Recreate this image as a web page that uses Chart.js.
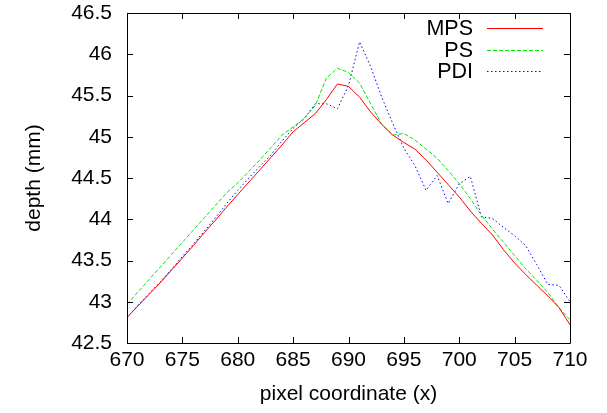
<!DOCTYPE html>
<html>
<head>
<meta charset="utf-8">
<script src="https://cdn.jsdelivr.net/npm/chart.js@4/dist/chart.umd.min.js"></script>
<style>
	html, body { margin: 0; padding: 0; background: #fff; }
	#wrap { width: 607px; height: 413px; }
</style>
</head>
<body>
<div id="wrap"><canvas id="depthChart" width="607" height="413"></canvas></div>
<script>
// x 좌표 (pixel coordinate)
const xValues = [670, 671, 672, 673, 674, 675, 676, 677, 678, 679, 680, 681, 682, 683, 684, 685, 686, 687, 688, 689, 690,
	691, 692, 693, 694, 695, 696, 697, 698, 699, 700, 701, 702, 703, 704, 705, 706, 707, 708, 709, 710];

// 각 방법의 depth (mm)
const mpsValues = [42.81, 42.95, 43.09, 43.23, 43.38, 43.53, 43.68, 43.84, 43.99, 44.15, 44.30, 44.45, 44.60, 44.75, 44.90,
	45.06, 45.17, 45.28, 45.45, 45.64, 45.61, 45.48, 45.30, 45.15, 45.02, 44.93, 44.85, 44.72, 44.57, 44.42, 44.27,
	44.10, 43.95, 43.81, 43.63, 43.47, 43.33, 43.20, 43.07, 42.93, 42.72];
const psValues = [42.97, 43.12, 43.27, 43.42, 43.57, 43.72, 43.87, 44.02, 44.17, 44.32, 44.44, 44.58, 44.72, 44.87, 45.02,
	45.12, 45.22, 45.38, 45.71, 45.83, 45.78, 45.65, 45.40, 45.15, 45.02, 45.04, 44.96, 44.85, 44.74, 44.59, 44.43,
	44.25, 44.05, 43.88, 43.72, 43.56, 43.40, 43.26, 43.11, 42.93, 42.78];
const pdiValues = [42.81, 42.96, 43.10, 43.24, 43.39, 43.55, 43.70, 43.86, 44.02, 44.19, 44.35, 44.50, 44.64, 44.78, 44.95,
	45.10, 45.22, 45.40, 45.40, 45.34, 45.62, 46.15, 45.85, 45.48, 45.16, 44.86, 44.65, 44.35, 44.53, 44.19, 44.43,
	44.52, 44.03, 44.01, 43.90, 43.80, 43.68, 43.45, 43.21, 43.20, 43.00];

const seriesNames = ["MPS", "PS", "PDI"];
const seriesColors = ["#ff0000", "#00e600", "#0000ff"];
const seriesDash = [[], [4, 2], [1.5, 2.5]];

const FONT = "'Liberation Sans', Arial, Helvetica, sans-serif";
const FONT_SIZE = 21;

function toPoints(values) {
	return xValues.map((x, i) => ({ x: x, y: values[i] }));
}

// 테두리 + 안쪽 눈금 (gnuplot 스타일) + 범례
const framePlugin = {
	id: "frame",
	afterDraw(chart) {
		const { ctx, chartArea: a, scales } = chart;
		ctx.save();
		ctx.strokeStyle = "#000";
		ctx.lineWidth = 1;
		ctx.beginPath();
		ctx.rect(Math.round(a.left) + 0.5, Math.round(a.top) + 0.5, Math.round(a.right - a.left), Math.round(a.bottom - a.top));
		const tl = 6;
		scales.x.ticks.forEach((t) => {
			const px = Math.round(scales.x.getPixelForValue(t.value)) + 0.5;
			ctx.moveTo(px, a.bottom);
			ctx.lineTo(px, a.bottom - tl);
			ctx.moveTo(px, a.top);
			ctx.lineTo(px, a.top + tl);
		});
		scales.y.ticks.forEach((t) => {
			const py = Math.round(scales.y.getPixelForValue(t.value)) + 0.5;
			ctx.moveTo(a.left, py);
			ctx.lineTo(a.left + tl, py);
			ctx.moveTo(a.right, py);
			ctx.lineTo(a.right - tl, py);
		});
		ctx.stroke();
		ctx.closePath();

		ctx.font = "21.5px " + FONT;
		ctx.textAlign = "right";
		ctx.textBaseline = "middle";
		seriesNames.forEach((name, i) => {
			const y = 28 + i * 21.7;
			ctx.fillStyle = "#000";
			ctx.fillText(name, 473, y + 1);
			const ly = Math.round(y) + 0.5;
			ctx.beginPath();
			ctx.strokeStyle = seriesColors[i];
			ctx.lineWidth = 1;
			ctx.setLineDash(seriesDash[i]);
			ctx.moveTo(487, ly);
			ctx.lineTo(543, ly);
			ctx.stroke();
			ctx.setLineDash([]);
		});
		ctx.restore();
	},
};

const chartData = {
	datasets: [mpsValues, psValues, pdiValues].map((values, i) => ({
		label: seriesNames[i],
		data: toPoints(values),
		borderColor: seriesColors[i],
		borderWidth: 1,
		borderDash: seriesDash[i],
		pointRadius: 0,
		tension: 0,
		fill: false,
	})),
};

const ctx = document.getElementById("depthChart").getContext("2d");
new Chart(ctx, {
	type: "line",
	data: chartData,
	options: {
		responsive: false,
		animation: false,
		layout: { padding: { top: 0, right: 37, left: 0, bottom: 0 } },
		plugins: {
			legend: { display: false },
			tooltip: { enabled: false },
		},
		scales: {
			x: {
				type: "linear",
				min: 670,
				max: 710,
				afterFit: (scale) => { scale.height = 70; },
				grid: { display: false, drawTicks: false },
				border: { display: false },
				ticks: { stepSize: 5, padding: 5, color: "#000", font: { family: FONT, size: FONT_SIZE } },
				title: {
					display: true,
					text: "pixel coordinate (x)",
					color: "#000",
					font: { family: FONT, size: FONT_SIZE },
					padding: { top: 0, bottom: 6 },
				},
			},
			y: {
				type: "linear",
				min: 42.5,
				max: 46.5,
				afterFit: (scale) => {
					scale.width = 127;
					scale.paddingTop = 13;
					scale.paddingBottom = 0;
				},
				grid: { display: false, drawTicks: false },
				border: { display: false },
				ticks: {
					stepSize: 0.5,
					padding: 15,
					color: "#000",
					font: { family: FONT, size: FONT_SIZE },
					callback: (v) => String(v),
				},
				title: {
					display: true,
					text: "depth (mm)",
					color: "#000",
					font: { family: FONT, size: FONT_SIZE },
					padding: { top: 22, bottom: 0 },
				},
			},
		},
	},
	plugins: [framePlugin],
});
</script>
</body>
</html>
